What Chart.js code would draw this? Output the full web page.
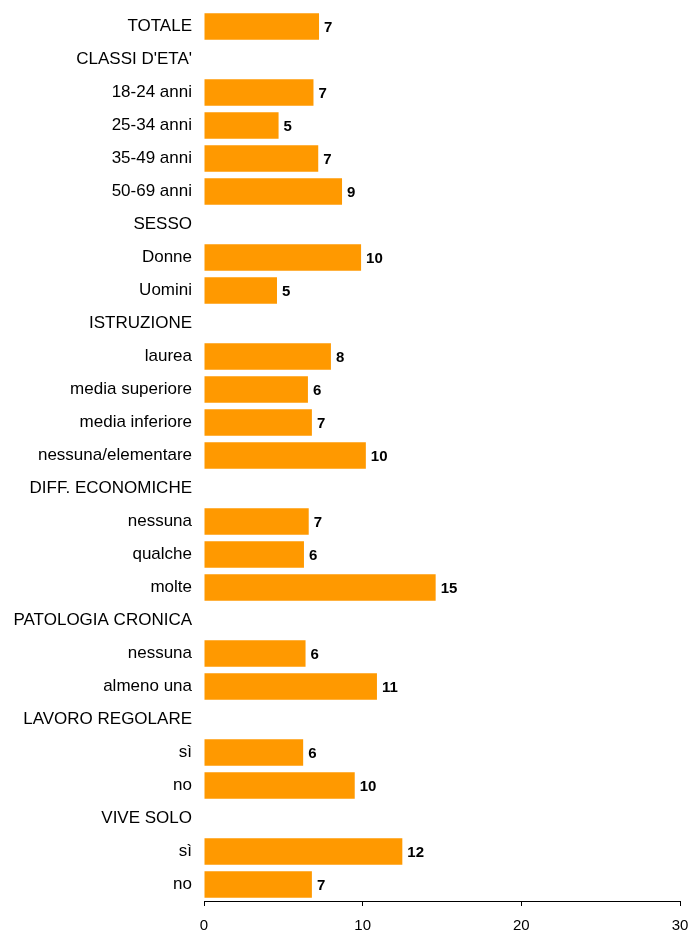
<!DOCTYPE html>
<html>
<head>
<meta charset="utf-8">
<script src="https://cdn.jsdelivr.net/npm/chart.js@4"></script>
<style>
  html, body { margin: 0; padding: 0; background: #fff; }
  #wrap { width: 689px; height: 932px; }
</style>
</head>
<body>
<div id="wrap"><canvas id="chart"></canvas></div>
<script>
const categories = [
  'TOTALE', "CLASSI D'ETA'", '18-24 anni', '25-34 anni', '35-49 anni', '50-69 anni',
  'SESSO', 'Donne', 'Uomini',
  'ISTRUZIONE', 'laurea', 'media superiore', 'media inferiore', 'nessuna/elementare',
  'DIFF. ECONOMICHE', 'nessuna', 'qualche', 'molte',
  'PATOLOGIA CRONICA', 'nessuna', 'almeno una',
  'LAVORO REGOLARE', 'sì', 'no',
  'VIVE SOLO', 'sì', 'no'
];
const values = [
  7.25, null, 6.9, 4.7, 7.2, 8.7,
  null, 9.9, 4.6,
  null, 8.0, 6.55, 6.8, 10.2,
  null, 6.6, 6.3, 14.6,
  null, 6.4, 10.9,
  null, 6.25, 9.5,
  null, 12.5, 6.8
];
const valueLabels = [
  '7', '', '7', '5', '7', '9',
  '', '10', '5',
  '', '8', '6', '7', '10',
  '', '7', '6', '15',
  '', '6', '11',
  '', '6', '10',
  '', '12', '7'
];
const xTicks = [0, 10, 20, 30];

const FONT = '"Liberation Sans", Arial, sans-serif';

// numbers printed at the end of each bar
const barValueLabels = {
  id: 'barValueLabels',
  afterDatasetsDraw(chart) {
    const { ctx } = chart;
    const meta = chart.getDatasetMeta(0);
    ctx.save();
    ctx.font = 'bold 15px ' + FONT;
    ctx.fillStyle = '#000';
    ctx.textAlign = 'left';
    ctx.textBaseline = 'middle';
    meta.data.forEach((bar, i) => {
      if (values[i] == null) return;
      ctx.fillText(valueLabels[i], bar.x + 5, bar.y + 1);
    });
    ctx.restore();
  }
};

new Chart(document.getElementById('chart'), {
  type: 'bar',
  data: {
    labels: categories,
    datasets: [{
      data: values,
      backgroundColor: '#FF9900',
      borderWidth: 0,
      barPercentage: 0.8,
      categoryPercentage: 1
    }]
  },
  options: {
    indexAxis: 'y',
    responsive: true,
    maintainAspectRatio: false,
    animation: false,
    layout: { padding: { top: 0, right: 0, bottom: 0, left: 0 } },
    plugins: {
      legend: { display: false },
      tooltip: { enabled: false }
    },
    scales: {
      x: {
        min: 0,
        max: 30,
        afterBuildTicks(scale) {
          scale.ticks = xTicks.map((v) => ({ value: v }));
        },
        afterFit(scale) {
          scale.height = 31;
          scale.paddingLeft = 0;
          scale.paddingRight = 9;
        },
        grid: {
          display: true,
          drawOnChartArea: false,
          drawTicks: true,
          tickLength: 5,
          color: '#000'
        },
        border: { display: true, color: '#000', width: 1 },
        ticks: {
          color: '#000',
          padding: 11,
          maxRotation: 0,
          font: { family: FONT, size: 15 }
        }
      },
      y: {
        afterFit(scale) {
          scale.width = 204;
          scale.paddingTop = 10;
          scale.paddingBottom = 0;
        },
        grid: { display: false },
        border: { display: false },
        ticks: {
          color: '#000',
          padding: 4,
          autoSkip: false,
          font: { family: FONT, size: 17 }
        }
      }
    }
  },
  plugins: [barValueLabels]
});
</script>
</body>
</html>
